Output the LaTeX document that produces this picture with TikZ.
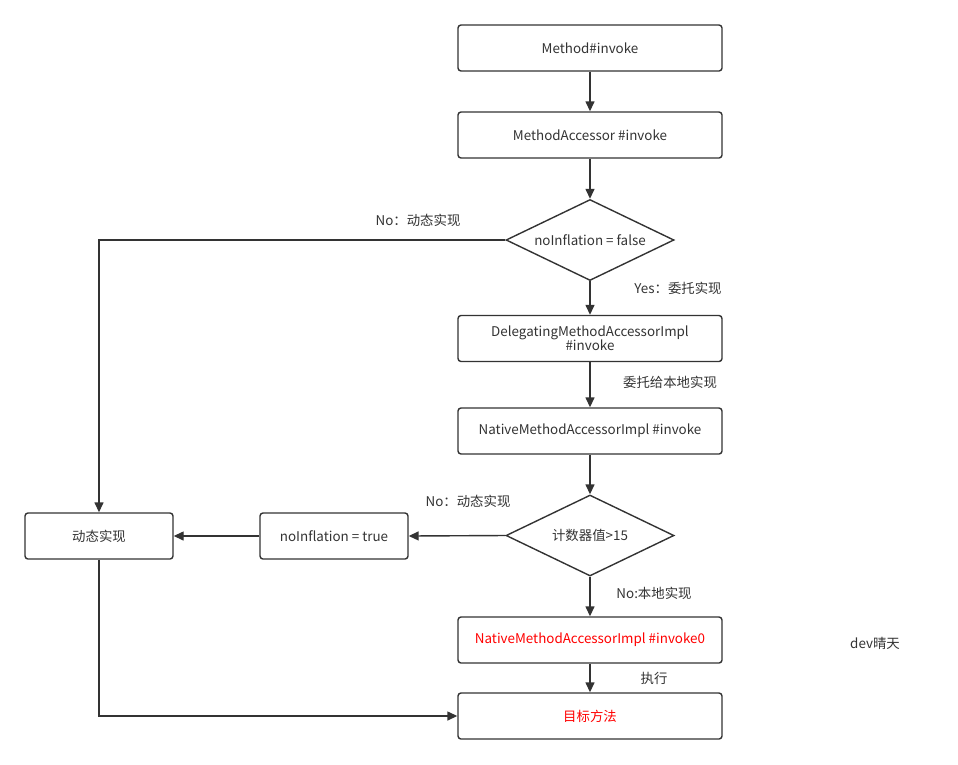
\documentclass[tikz,border=0pt]{standalone}
\usepackage{fontspec}
\setmainfont{Noto Sans CJK SC}
\usetikzlibrary{shapes.geometric,arrows.meta}

\definecolor{linegray}{HTML}{333333}
\definecolor{textgray}{HTML}{333333}
\definecolor{hotred}{HTML}{FF0000}

\tikzset{
    stepbox/.style={draw=linegray, line width=1.4pt, rounded corners=3pt, minimum width=264pt,
        minimum height=46pt, inner sep=2pt, align=center, text=textgray},
    sidebox/.style={stepbox, minimum width=148pt},
    check/.style={draw=linegray, line width=1.4pt, diamond, aspect=2, inner sep=0pt,
        minimum width=168pt, minimum height=81pt, text=textgray},
    flow/.style={draw=linegray, line width=1.4pt, -{Triangle[length=10pt,width=9pt]}},
    note/.style={text=textgray, inner sep=0pt},
}

\begin{document}
\begin{tikzpicture}[x=1pt, y=-1pt, every node/.append style={font=\fontsize{13.4}{15}\selectfont}]

    \useasboundingbox (0,0) rectangle (958,764);

    \def\cx{590}        % x of the main column

    % main column
    \node[stepbox] (method)   at (\cx,48)  {Method\#invoke};
    \node[stepbox] (accessor) at (\cx,135) {MethodAccessor \#invoke};
    \node[check]   (inflate)  at (\cx,240) {noInflation = false};
    \node[stepbox] (delegate) at (\cx,338.5) {DelegatingMethodAccessorImpl\\[-1pt]\#invoke};
    \node[stepbox] (native)   at (\cx,431) {NativeMethodAccessorImpl \#invoke};
    \node[check]   (count)    at (\cx,535.5) {计数器值>15};
    \node[stepbox, text=hotred] (native0) at (\cx,640) {NativeMethodAccessorImpl \#invoke0};
    \node[stepbox, text=hotred] (target)  at (\cx,716) {目标方法};

    % left side
    \node[sidebox] (dynamic) at (99,536)  {动态实现};
    \node[sidebox] (setflag) at (334,536) {noInflation = true};

    \draw[flow] (method) -- (accessor);
    \draw[flow] (accessor) -- (inflate);
    \draw[flow] (inflate) -- (delegate);
    \draw[flow] (delegate) -- (native);
    \draw[flow] (native) -- (count);
    \draw[flow] (count) -- (native0);
    \draw[flow] (native0) -- (target);
    \draw[flow] (inflate.west) -| (dynamic.north);
    \draw[flow] (count.west) -- (setflag.east);
    \draw[flow] (setflag.west) -- (dynamic.east);
    \draw[flow] (dynamic.south) |- (target.west);

    % edge labels
    \node[note] (nodyn1)  at (418,220) {No：动态实现};
    \node[note] (yesdel)  at (678,288) {Yes：委托实现};
    \node[note] (tolocal) at (670,382) {委托给本地实现};
    \node[note] (nodyn2)  at (468,501) {No：动态实现};
    \node[note] (nolocal) at (654,593) {No:本地实现};
    \node[note] (run)     at (654,678) {执行};
    \node[note] (sign)    at (875,643) {dev晴天};

\end{tikzpicture}
\end{document}
